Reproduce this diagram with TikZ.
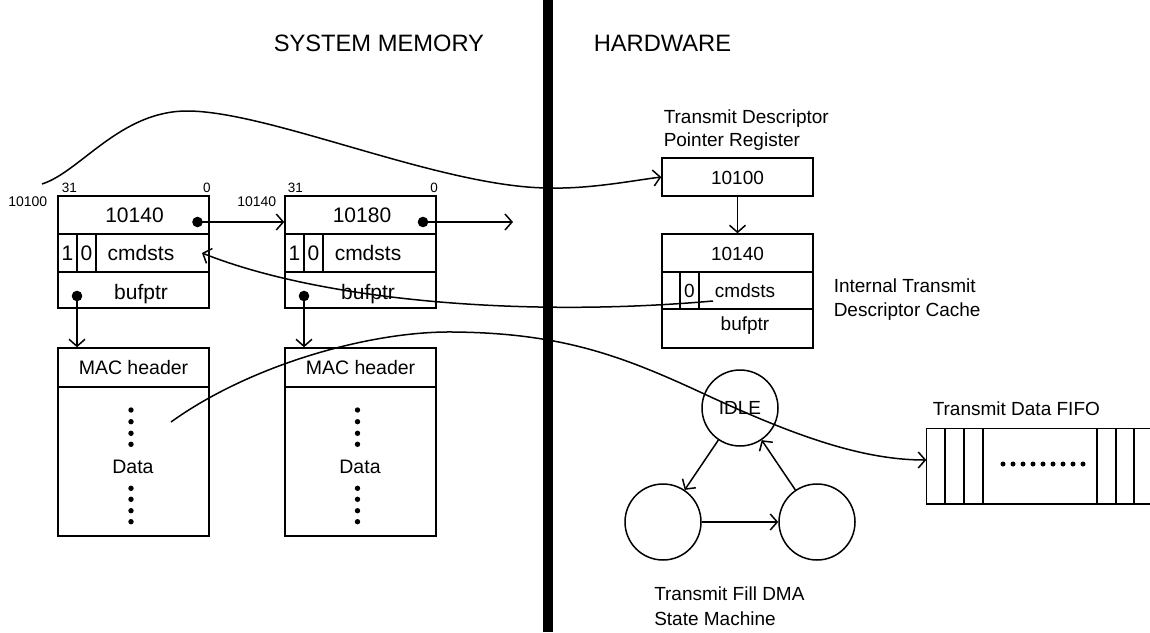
\documentclass[tikz,border=0pt]{standalone}
\usepackage{fontspec}
\setmainfont{Liberation Sans}
\usetikzlibrary{arrows.meta}
\newcommand\pxfont[1]{\fontsize{#1}{#1}\selectfont}
\begin{document}
\begin{tikzpicture}[x=1pt,y=-1pt,line width=1.5pt,
  cell/.style={draw,rectangle,inner sep=0pt,minimum width=151pt},
  bitcell/.style={draw,rectangle,inner sep=0pt,font=\pxfont{21}},
  hbit/.style={draw,rectangle,inner sep=0pt,font=\pxfont{19}},
  memtxt/.style={inner sep=0pt,anchor=base,font=\pxfont{21}},
  hwtxt/.style={inner sep=0pt,anchor=base,font=\pxfont{19}},
  small/.style={inner sep=0pt,anchor=base,font=\pxfont{13.5}},
  caption/.style={inner sep=0pt,anchor=base west,font=\pxfont{19}},
  title/.style={inner sep=0pt,anchor=base west,font=\pxfont{23.7}},
  state/.style={draw,circle,inner sep=0pt,minimum size=76pt,font=\pxfont{19}},
  barb/.style={-{Straight Barb[length=7pt,width=16pt]}},
  ptrdot/.style={fill,circle,inner sep=0pt,minimum size=10.6pt},
  vdot/.style={fill,circle,inner sep=0pt,minimum size=5.4pt},
]
\useasboundingbox (0,0) rectangle (1150,632);

% divider between the two domains
\fill (543,0) rectangle (553,632);
\node[title] (tsys) at (273,51) {SYSTEM MEMORY};
\node[title] (thw) at (593,51) {HARDWARE};

% ---------- descriptor 1 ----------
\node[cell,minimum height=38pt] (d1a) at (133.5,215) {};
\node[cell,minimum height=38pt] (d1b) at (133.5,253) {};
\node[cell,minimum height=36pt] (d1c) at (133.5,290) {};
\node[bitcell,minimum width=19pt,minimum height=38pt] (d1b1) at (67.5,253) {1};
\node[bitcell,minimum width=19pt,minimum height=38pt] (d1b0) at (86.5,253) {0};
\node[memtxt] (d1t1) at (134.5,222) {10140};
\node[memtxt] (d1t2) at (141,260) {cmdsts};
\node[memtxt] (d1t3) at (141,299) {bufptr};
\node[small,anchor=base west] (d1h) at (61,192) {31};
\node[small] (d1l) at (207,192) {0};
\node[small,anchor=base east,font=\pxfont{14}] (d1addr) at (48,206) {10100};

% ---------- descriptor 2 ----------
\node[cell,minimum height=38pt] (d2a) at (360.5,215) {};
\node[cell,minimum height=38pt] (d2b) at (360.5,253) {};
\node[cell,minimum height=36pt] (d2c) at (360.5,290) {};
\node[bitcell,minimum width=19pt,minimum height=38pt] (d2b1) at (294.5,253) {1};
\node[bitcell,minimum width=19pt,minimum height=38pt] (d2b0) at (313.5,253) {0};
\node[memtxt] (d2t1) at (362,222) {10180};
\node[memtxt] (d2t2) at (368,260) {cmdsts};
\node[memtxt] (d2t3) at (368,299) {bufptr};
\node[small,anchor=base west] (d2h) at (287,192) {31};
\node[small] (d2l) at (434,192) {0};
\node[small,anchor=base east,font=\pxfont{14}] (d2addr) at (277,206) {10140};

% ---------- packet buffers ----------
\node[cell,minimum height=39pt] (m1a) at (133.5,367.5) {};
\node[cell,minimum height=149pt] (m1b) at (133.5,461.5) {};
\node[memtxt,font=\pxfont{19.5}] (m1h) at (133.5,374) {MAC header};
\node[memtxt,font=\pxfont{19.5}] (m1d) at (133,473) {Data};
\foreach \yy [count=\i] in {410,421.7,433.3,444.3,488.3,499.3,510.7,521.7}
  \node[vdot] (m1v\i) at (131,\yy) {};

\node[cell,minimum height=39pt] (m2a) at (360.5,367.5) {};
\node[cell,minimum height=149pt] (m2b) at (360.5,461.5) {};
\node[memtxt,font=\pxfont{19.5}] (m2h) at (360.5,374) {MAC header};
\node[memtxt,font=\pxfont{19.5}] (m2d) at (360,473) {Data};
\foreach \yy [count=\i] in {410,421.7,433.3,444.3,488.3,499.3,510.7,521.7}
  \node[vdot] (m2v\i) at (357.5,\yy) {};

% ---------- pointers in memory ----------
\node[ptrdot] (p1) at (197.5,222) {};
\node[ptrdot] (p2) at (423,222) {};
\node[ptrdot] (b1) at (77,296) {};
\node[ptrdot] (b2) at (304,296) {};
\coordinate (nxt) at (513,222);
\draw[barb] (p1.center) -- (p1.center -| d2a.west);
\draw[barb] (p2.center) -- (nxt);
\draw[barb] (b1.center) -- (b1.center |- m1a.north);
\draw[barb] (b2.center) -- (b2.center |- m2a.north);

% ---------- pointer register and descriptor cache ----------
\node[caption] (regc1) at (663,123.3) {Transmit Descriptor};
\node[caption] (regc2) at (663,146.7) {Pointer Register};
\node[cell,minimum height=38pt] (reg) at (737.5,177) {};
\node[hwtxt] (regt) at (737.5,184) {10100};

\node[cell,minimum height=38pt] (c1) at (737.5,253) {};
\node[cell,minimum height=37pt] (c2) at (737.5,290.5) {};
\node[cell,minimum height=39pt] (c3) at (737.5,328.5) {};
\node[hbit,minimum width=18pt,minimum height=37pt] (cb1) at (671,290.5) {};
\node[hbit,minimum width=19pt,minimum height=37pt] (cb0) at (689.5,290.5) {0};
\node[hwtxt] (ct1) at (737.5,260) {10140};
\node[hwtxt] (ct2) at (745,297) {cmdsts};
\node[hwtxt] (ct3) at (745,330) {bufptr};
\node[caption] (cc1) at (833,292.7) {Internal Transmit};
\node[caption] (cc2) at (833,316.7) {Descriptor Cache};
\draw[barb] (reg.south) -- (c1.north);

% ---------- fill DMA state machine ----------
\node[state] (idle) at (740,408) {IDLE};
\node[state] (sl) at (663,522) {};
\node[state] (sr) at (817,522) {};
\draw[barb] (idle) -- (sl);
\draw[barb] (sl) -- (sr);
\draw[barb] (sr) -- (idle);
\node[caption] (smc1) at (653.5,600) {Transmit Fill DMA};
\node[caption] (smc2) at (653.5,625) {State Machine};

% ---------- transmit data FIFO ----------
\node[caption] (fifoc) at (932,415) {Transmit Data FIFO};
\node[inner sep=0pt,minimum width=233pt,minimum height=74pt] (fifo) at (1043.5,466) {};
\draw (fifo.north east) -- (fifo.north west) -- (fifo.south west) -- (fifo.south east);
\foreach \xx in {945,964,983,1097,1116,1134}
  \draw (\xx,429) -- (\xx,503);
\foreach \xx [count=\i] in {1003,1013,...,1083}
  \node[vdot,minimum size=5pt] (fd\i) at (\xx,464) {};

% ---------- flows ----------
\coordinate (tdstart) at (42,184);
\draw[barb] (tdstart) .. controls (80,172) and (120,111) .. (187,111)
  .. controls (270,111) and (440,187) .. (548,188)
  .. controls (590,189) and (630,181) .. (reg.west);

\coordinate (cachesrc) at (713,301);
\coordinate (cmdtip) at (202,253);
\draw[barb] (cachesrc) .. controls (520,318) and (320,300) .. (cmdtip);

\coordinate (datasrc) at (171,422);
\coordinate (fifoin) at ([yshift=6pt]fifo.west);
\draw[barb] (datasrc) .. controls (250,365) and (370,331) .. (453,332)
  .. controls (560,333) and (620,355) .. (700,392)
  .. controls (790,434) and (860,460) .. (fifoin);
\end{tikzpicture}
\end{document}
